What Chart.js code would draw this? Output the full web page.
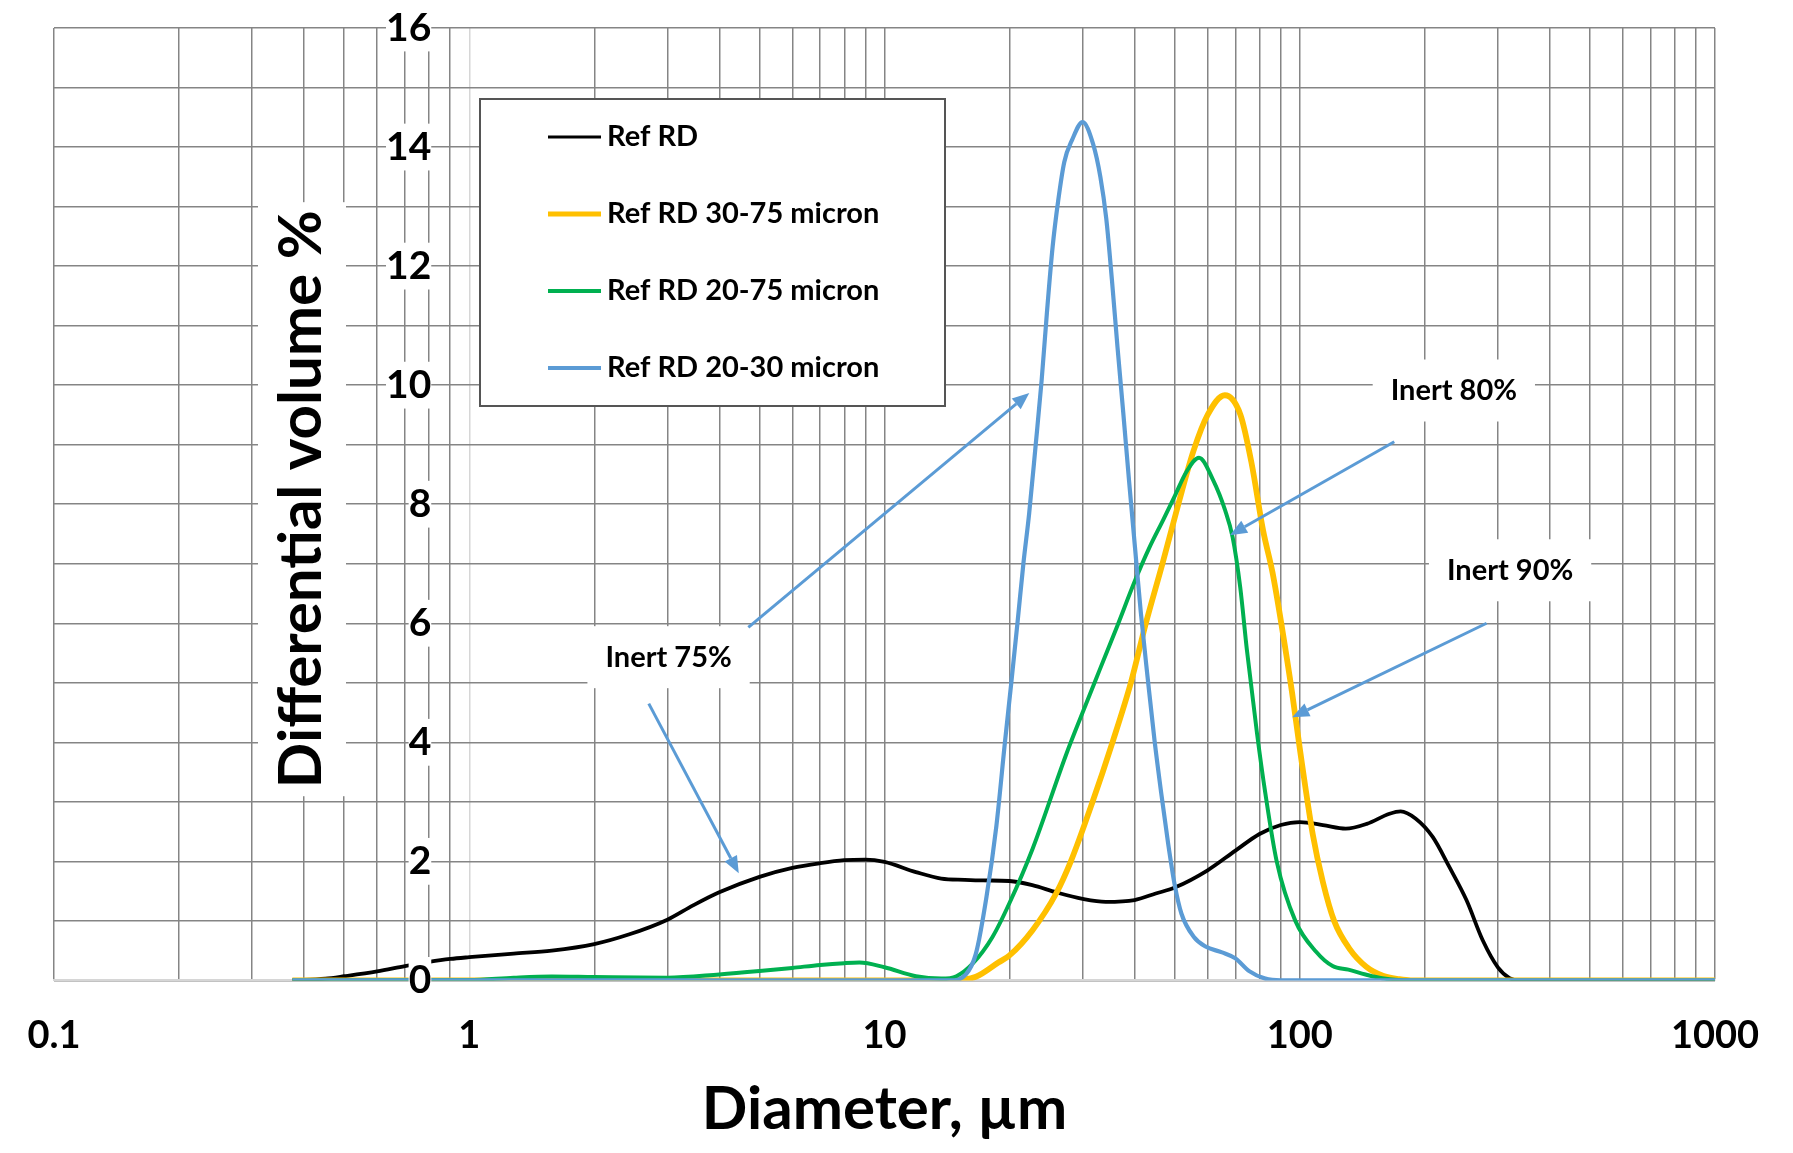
<!DOCTYPE html>
<html>
<head>
<meta charset="utf-8">
<title>Differential volume vs diameter</title>
<script src="https://cdn.jsdelivr.net/npm/chart.js@4.4.0/dist/chart.umd.min.js"></script>
<style>
  html, body { margin: 0; padding: 0; background: #ffffff; }
  #wrap { width: 1793px; height: 1153px; position: relative; }
</style>
</head>
<body>
<div id="wrap"><canvas id="psdChart"></canvas></div>
<script>
// Diameter (µm) / differential volume (%)
const refX = [0.375, 0.45, 0.5, 0.6, 0.7, 0.8, 0.9, 1, 1.28, 1.58, 2, 2.42, 3, 3.46, 4, 5, 6, 7, 8, 9, 10, 11.9, 13.7, 15.6, 17.3, 20, 22.7, 25.9, 30, 34.1, 40, 45, 50, 60, 70, 80, 90, 100, 113.7, 129, 145, 164.5, 175, 190, 209, 229, 252, 276, 300, 320, 338, 1000];
const refY = [0, 0.03, 0.07, 0.15, 0.24, 0.31, 0.36, 0.39, 0.45, 0.50, 0.61, 0.77, 1.02, 1.26, 1.48, 1.74, 1.89, 1.97, 2.02, 2.03, 1.99, 1.82, 1.71, 1.69, 1.68, 1.67, 1.60, 1.48, 1.37, 1.32, 1.35, 1.46, 1.56, 1.85, 2.18, 2.46, 2.61, 2.66, 2.61, 2.55, 2.63, 2.80, 2.84, 2.72, 2.41, 1.91, 1.35, 0.67, 0.22, 0.04, 0, 0];

const r3075X = [0.375, 14.4, 16.6, 18.8, 20, 22.7, 25.9, 28.1, 31.7, 35.4, 39.2, 42.6, 46.7, 51, 55.5, 60, 66, 72, 76.6, 81.6, 86, 90.6, 95.9, 100, 107.5, 113.7, 121, 131.8, 144.6, 158.5, 173.7, 185, 1000];
const r3075Y = [0, 0, 0.06, 0.3, 0.42, 0.84, 1.46, 2.0, 3.0, 4.0, 5.0, 6.0, 7.0, 8.0, 8.9, 9.5, 9.83, 9.5, 8.68, 7.56, 6.85, 5.93, 4.82, 3.9, 2.45, 1.65, 1.0, 0.53, 0.23, 0.08, 0.02, 0, 0];

const r2075X = [0.375, 1, 1.28, 1.58, 2, 3, 4, 5, 6, 7, 8, 8.7, 10, 11.9, 13.7, 14.9, 16.3, 18.2, 20, 22.7, 27.4, 30, 32.9, 36.1, 40.3, 43.3, 47, 50.1, 53.4, 57.2, 61.9, 66.1, 68.9, 71.9, 74.6, 78.9, 82.6, 88, 97.6, 109.5, 120, 131, 144, 158, 173, 185, 1000];
const r2075Y = [0, 0.005, 0.045, 0.065, 0.056, 0.045, 0.1, 0.157, 0.21, 0.26, 0.29, 0.30, 0.22, 0.07, 0.03, 0.07, 0.28, 0.73, 1.3, 2.2, 3.8, 4.5, 5.2, 5.9, 6.75, 7.25, 7.75, 8.15, 8.55, 8.78, 8.4, 7.9, 7.45, 6.6, 5.55, 4.15, 3.15, 2.0, 1.0, 0.48, 0.24, 0.18, 0.1, 0.035, 0.005, 0, 0];

const r2030X = [0.375, 14.4, 15.7, 16.6, 17.6, 18.6, 19.5, 20.2, 20.9, 21.6, 22.3, 23.1, 23.9, 24.6, 25.4, 26.2, 27.1, 28.3, 30, 31.8, 33.1, 34.2, 35.3, 36.4, 37.6, 38.8, 40.1, 41.4, 43, 44.7, 46.4, 48.2, 50, 51.9, 55.6, 59.3, 65, 70, 75.4, 82.6, 90, 1000];
const r2030Y = [0, 0, 0.1, 0.45, 1.4, 2.6, 4.0, 5.0, 6.0, 7.0, 7.84, 8.96, 10.08, 11.2, 12.32, 13.1, 13.75, 14.12, 14.42, 14.05, 13.5, 12.8, 11.76, 10.64, 9.52, 8.4, 7.28, 6.2, 5.1, 4.03, 3.14, 2.3, 1.6, 1.12, 0.73, 0.57, 0.47, 0.37, 0.16, 0.03, 0, 0];

const seriesNames = ['Ref RD', 'Ref RD 30-75 micron', 'Ref RD 20-75 micron', 'Ref RD 20-30 micron'];
const xMajorTicks = [0.1, 1, 10, 100, 1000];
const yLabelStep = 2;

// callouts in data units (µm, %)
const notes = [
    { text: 'Inert 75%', x: 3.02, y: 5.43 },
    { text: 'Inert 80%', x: 235, y: 9.91 },
    { text: 'Inert 90%', x: 321, y: 6.89 }
];
const arrows = [
    [2.706, 4.65, 4.457, 1.80],
    [4.70, 5.93, 22.32, 9.87],
    [168.9, 9.05, 67.9, 7.48],
    [281.8, 6.00, 95.9, 4.42]
];

const FONT = 'Lato, "Open Sans", "DejaVu Sans", sans-serif';
const GRID = '#858585';
const AXIS_LIGHT = '#d6d6d6';
const ARROW = '#5b9bd5';

// 1..9 x each decade for the log grid
const xGridValues = [];
xMajorTicks.slice(0, -1).forEach(d => {
    for (let k = 1; k <= 9; k++) xGridValues.push(+(d * k).toPrecision(6));
});
xGridValues.push(xMajorTicks[xMajorTicks.length - 1]);

function pts(xs, ys) {
    return xs.map((x, i) => ({ x: x, y: ys[i] }));
}

const yTitlePlugin = {
    id: 'yTitle',
    beforeDatasetsDraw(chart) {
        const { ctx, chartArea } = chart;
        const text = 'Differential volume %';
        ctx.save();
        ctx.translate(302, (chartArea.top + chartArea.bottom) / 2 - 5);
        ctx.rotate(-Math.PI / 2);
        ctx.font = 'bold 60px ' + FONT;
        const w = ctx.measureText(text).width;
        ctx.fillStyle = '#ffffff';
        ctx.fillRect(-w / 2 - 8, -44, w + 16, 88);
        ctx.fillStyle = '#000000';
        ctx.textAlign = 'center';
        ctx.textBaseline = 'middle';
        ctx.fillText(text, 0, 0);
        ctx.restore();
    }
};

const legendBoxPlugin = {
    id: 'legendBox',
    beforeDatasetsDraw(chart) {
        const { ctx, chartArea } = chart;
        const left = chartArea.left + 426, top = chartArea.top + 71;
        const w = 465, h = 307;
        ctx.save();
        ctx.fillStyle = '#ffffff';
        ctx.fillRect(left, top, w, h);
        ctx.strokeStyle = '#555555';
        ctx.lineWidth = 2;
        ctx.strokeRect(left, top, w, h);
        ctx.font = 'bold 29px ' + FONT;
        ctx.textBaseline = 'middle';
        ctx.textAlign = 'left';
        chart.data.datasets.forEach((ds, i) => {
            const cy = top + 38 + i * 77;
            ctx.strokeStyle = ds.borderColor;
            ctx.lineWidth = ds.legendWidth;
            ctx.beginPath();
            ctx.moveTo(left + 68, cy);
            ctx.lineTo(left + 121, cy);
            ctx.stroke();
            ctx.fillStyle = '#000000';
            ctx.fillText(ds.label, left + 127, cy);
        });
        ctx.restore();
    }
};

const calloutPlugin = {
    id: 'callouts',
    afterDatasetsDraw(chart) {
        const { ctx } = chart;
        const xs = chart.scales.x, ys = chart.scales.y;
        ctx.save();
        ctx.font = 'bold 29px ' + FONT;
        ctx.textAlign = 'center';
        ctx.textBaseline = 'middle';
        notes.forEach(n => {
            const px = xs.getPixelForValue(n.x), py = ys.getPixelForValue(n.y);
            const w = ctx.measureText(n.text).width;
            ctx.fillStyle = '#ffffff';
            ctx.fillRect(px - w / 2 - 18, py - 31, w + 36, 62);
            ctx.fillStyle = '#000000';
            ctx.fillText(n.text, px, py);
        });
        ctx.strokeStyle = ARROW;
        ctx.fillStyle = ARROW;
        ctx.lineWidth = 3;
        arrows.forEach(a => {
            const x1 = xs.getPixelForValue(a[0]), y1 = ys.getPixelForValue(a[1]);
            const x2 = xs.getPixelForValue(a[2]), y2 = ys.getPixelForValue(a[3]);
            const ang = Math.atan2(y2 - y1, x2 - x1);
            const hl = 17, hw = 7;
            const bx = x2 - hl * Math.cos(ang), by = y2 - hl * Math.sin(ang);
            ctx.beginPath();
            ctx.moveTo(x1, y1);
            ctx.lineTo(bx, by);
            ctx.stroke();
            ctx.beginPath();
            ctx.moveTo(x2, y2);
            ctx.lineTo(bx + hw * Math.sin(ang), by - hw * Math.cos(ang));
            ctx.lineTo(bx - hw * Math.sin(ang), by + hw * Math.cos(ang));
            ctx.closePath();
            ctx.fill();
        });
        ctx.restore();
    }
};

new Chart(document.getElementById('psdChart'), {
    type: 'line',
    data: {
        datasets: [
            { label: seriesNames[0], data: pts(refX, refY), borderColor: '#000000', borderWidth: 3.8, legendWidth: 3, order: 4 },
            { label: seriesNames[1], data: pts(r3075X, r3075Y), borderColor: '#ffc000', borderWidth: 5.8, legendWidth: 5, order: 3 },
            { label: seriesNames[2], data: pts(r2075X, r2075Y), borderColor: '#00b050', borderWidth: 4, legendWidth: 4, order: 2 },
            { label: seriesNames[3], data: pts(r2030X, r2030Y), borderColor: '#5b9bd5', borderWidth: 4.2, legendWidth: 4, order: 1 }
        ]
    },
    options: {
        responsive: true,
        maintainAspectRatio: false,
        animation: false,
        layout: { padding: { left: 54, right: 78, top: 28, bottom: 0 } },
        elements: {
            point: { radius: 0 },
            line: { cubicInterpolationMode: 'monotone', fill: false }
        },
        plugins: {
            legend: { display: false },
            tooltip: { enabled: false }
        },
        scales: {
            x: {
                type: 'logarithmic',
                min: 0.1,
                max: 1000,
                position: 'bottom',
                afterBuildTicks: scale => {
                    scale.ticks = xGridValues.map(v => ({ value: v }));
                },
                grid: {
                    color: c => (c.tick && Math.abs(c.tick.value - 1) < 1e-9) ? AXIS_LIGHT : GRID,
                    lineWidth: 1.5,
                    drawTicks: true,
                    tickLength: 33,
                    tickColor: 'rgba(0,0,0,0)'
                },
                border: { color: AXIS_LIGHT, width: 2 },
                ticks: {
                    autoSkip: false,
                    maxRotation: 0,
                    padding: 0,
                    color: '#000000',
                    font: { family: FONT, size: 38, weight: 'bold' },
                    callback: v => xMajorTicks.includes(v) ? String(v) : ''
                },
                title: {
                    display: true,
                    text: 'Diameter, µm',
                    color: '#000000',
                    font: { family: FONT, size: 60, weight: 'bold' },
                    padding: { top: 15, bottom: 7 }
                }
            },
            y: {
                type: 'linear',
                min: 0,
                max: 16,
                position: { x: 0.81 },
                grid: { color: GRID, lineWidth: 1.5, drawTicks: false },
                border: { display: false },
                ticks: {
                    stepSize: 1,
                    padding: 0,
                    z: 1,
                    color: '#000000',
                    font: { family: FONT, size: 39, weight: 'bold' },
                    showLabelBackdrop: true,
                    backdropColor: c => (c.tick && c.tick.value % yLabelStep === 0) ? '#ffffff' : 'rgba(255,255,255,0)',
                    backdropPadding: c => (c.tick && c.tick.value < 10)
                        ? { left: 8, right: 2, top: 3, bottom: 3 }
                        : { left: 2, right: 2, top: 3, bottom: 3 },
                    callback: v => v % yLabelStep === 0 ? String(v) : ''
                }
            }
        }
    },
    plugins: [yTitlePlugin, legendBoxPlugin, calloutPlugin]
});
</script>
</body>
</html>
